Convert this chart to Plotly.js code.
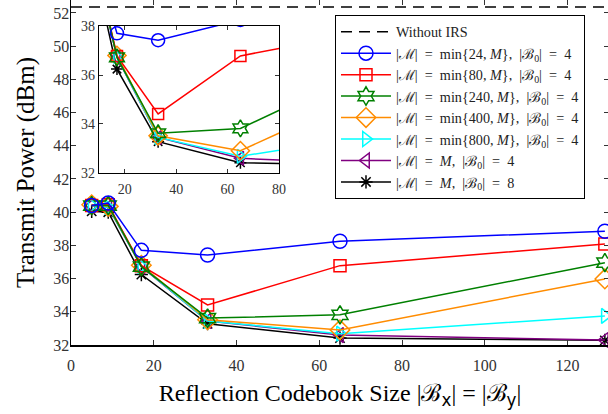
<!DOCTYPE html>
<html>
<head>
<meta charset="utf-8">
<script src="https://cdn.plot.ly/plotly-3.0.1.min.js"></script>
<style>
html,body{margin:0;padding:0;overflow:hidden;background:#fff;}
#chart{position:absolute;left:0;top:0;width:612px;height:414px;}
</style>
</head>
<body>
<div id="chart"></div>
<script>
// Data
const codebookSize = [5, 9, 17, 33, 65, 129];
const withoutIRS = 52.36;
const m24  = [40.40, 40.55, 37.70, 37.42, 38.25, 38.85];
const m80  = [40.40, 40.45, 36.78, 34.41, 36.78, 38.08];
const m240 = [40.40, 40.40, 36.72, 33.62, 33.82, 36.96];
const m400 = [40.45, 40.35, 36.80, 33.52, 32.91, 35.98];
const m800 = [40.40, 40.30, 36.75, 33.45, 32.68, 33.75];
const mAll4 = [40.40, 40.30, 36.72, 33.45, 32.60, 32.30];
const mAll8 = [40.05, 40.00, 36.24, 33.28, 32.42, 32.28];
const xTicks = [0, 20, 40, 60, 80, 100, 120];
const yTicks = [32, 34, 36, 38, 40, 42, 44, 46, 48, 50, 52];
const insetXTicks = [20, 40, 60, 80];
const insetYTicks = [32, 34, 36, 38];

const EQ = '\u2002=\u2002';
const labels = [
  'Without IRS',
  '|ℳ|' + EQ + 'min{24, <i>M</i>},\u2002|ℬ<sub>0</sub>|' + EQ + '4',
  '|ℳ|' + EQ + 'min{80, <i>M</i>},\u2002|ℬ<sub>0</sub>|' + EQ + '4',
  '|ℳ|' + EQ + 'min{240, <i>M</i>},\u2002|ℬ<sub>0</sub>|' + EQ + '4',
  '|ℳ|' + EQ + 'min{400, <i>M</i>},\u2002|ℬ<sub>0</sub>|' + EQ + '4',
  '|ℳ|' + EQ + 'min{800, <i>M</i>},\u2002|ℬ<sub>0</sub>|' + EQ + '4',
  '|ℳ|' + EQ + '<i>M</i>,\u2002|ℬ<sub>0</sub>|' + EQ + '4',
  '|ℳ|' + EQ + '<i>M</i>,\u2002|ℬ<sub>0</sub>|' + EQ + '8'
];

const SERIF = 'Liberation Serif, Times New Roman, serif';

// draw order bottom->top, with legend rank
const series = [
  {y: mAll8, color: '#000000', symbol: 'asterisk-open', size: 11, rank: 7},
  {y: mAll4, color: '#800080', symbol: 'triangle-left-open', size: 13, rank: 6},
  {y: m800, color: '#00ffff', symbol: 'triangle-right-open', size: 13, rank: 5},
  {y: m400, color: '#ff8c00', symbol: 'diamond-open', size: 15, rank: 4},
  {y: m80, color: '#ff0000', symbol: 'square-open', size: 12, rank: 2},
  {y: m240, color: '#008000', symbol: 'hexagram-open', size: 14, rank: 3},
  {y: m24, color: '#0000ff', symbol: 'circle-open', size: 14, rank: 1}
];

const traces = [];
traces.push({
  x: [0, 130], y: [withoutIRS, withoutIRS], mode: 'lines', name: labels[0],
  line: {color: '#000', width: 1.5, dash: '11px,7px'}, legendrank: 0,
  xaxis: 'x', yaxis: 'y', cliponaxis: true
});
series.forEach(s => {
  traces.push({
    x: codebookSize, y: s.y, mode: 'lines+markers', name: labels[s.rank],
    legendrank: s.rank,
    line: {color: s.color, width: 1.5},
    marker: {symbol: s.symbol, size: s.size, color: s.color, line: {color: s.color, width: 1.5}},
    xaxis: 'x', yaxis: 'y', cliponaxis: false
  });
});
// helper traces for mirrored tick axes
traces.push({x: [0], y: [32], xaxis: 'x2', yaxis: 'y', mode: 'markers', marker: {opacity: 0}, showlegend: false, hoverinfo: 'skip'});
traces.push({x: [0], y: [32], xaxis: 'x', yaxis: 'y2', mode: 'markers', marker: {opacity: 0}, showlegend: false, hoverinfo: 'skip'});
// inset
series.forEach(s => {
  traces.push({
    x: codebookSize, y: s.y, mode: 'lines+markers', showlegend: false,
    line: {color: s.color, width: 1.5},
    marker: {symbol: s.symbol, size: s.size - 1, color: s.color, line: {color: s.color, width: 1.5}},
    xaxis: 'x3', yaxis: 'y3', cliponaxis: true
  });
});

const tickFont = {family: SERIF, size: 16, color: '#333'};
const layout = {
  width: 612, height: 414,
  margin: {l: 71, r: 3, t: 0, b: 69},
  paper_bgcolor: '#fff', plot_bgcolor: 'rgba(0,0,0,0)',
  showlegend: true,
  legend: {
    x: 0.4907, y: 0.9565, xanchor: 'left', yanchor: 'top',
    bgcolor: '#fff', bordercolor: '#000', borderwidth: 1, itemwidth: 50,
    font: {family: SERIF, size: 14.2, color: '#222'}, tracegroupgap: 0
  },
  xaxis: {
    range: [0, 130], tickvals: xTicks, ticks: 'inside', ticklen: 5, tickcolor: '#333',
    showline: true, linecolor: '#000', linewidth: 1.5, showgrid: false, zeroline: false,
    tickfont: tickFont, anchor: 'y', ticklabelstandoff: 5,
    title: {text: 'Reflection Codebook Size |ℬ<sub><span style="font-family:DejaVu Sans">x</span></sub>| = |ℬ<sub><span style="font-family:DejaVu Sans">y</span></sub>|', font: {family: SERIF, size: 24, color: '#000'}, standoff: 11}
  },
  xaxis2: {
    range: [0, 130], tickvals: xTicks, ticks: 'inside', ticklen: 5, tickcolor: '#333',
    overlaying: 'x', side: 'top', anchor: 'y', showline: false, showgrid: false,
    zeroline: false, showticklabels: false
  },
  yaxis: {
    range: [32, 52.78], tickvals: yTicks, ticks: 'inside', ticklen: 5, tickcolor: '#333',
    showline: true, linecolor: '#000', linewidth: 1.5, showgrid: false, zeroline: false,
    tickfont: tickFont, anchor: 'x', ticklabelstandoff: -3,
    title: {text: 'Transmit Power (dBm)', font: {family: SERIF, size: 25, color: '#000'}, standoff: 11}
  },
  yaxis2: {
    range: [32, 52.78], tickvals: yTicks, ticks: 'inside', ticklen: 5, tickcolor: '#333',
    overlaying: 'y', side: 'right', anchor: 'x', showline: false, showgrid: false,
    zeroline: false, showticklabels: false
  },
  xaxis3: {
    domain: [0.052, 0.3866], anchor: 'y3', range: [10, 80], tickvals: insetXTicks,
    ticks: 'inside', ticklen: 4, tickcolor: '#333', showline: true, mirror: 'ticks', linecolor: '#000', linewidth: 1.2,
    showgrid: false, zeroline: false, tickfont: {family: SERIF, size: 14, color: '#333'}, ticklabelstandoff: 3
  },
  yaxis3: {
    domain: [0.4986, 0.9246], anchor: 'x3', range: [32, 38], tickvals: insetYTicks,
    ticks: 'inside', ticklen: 4, tickcolor: '#333', showline: true, mirror: 'ticks', linecolor: '#000', linewidth: 1.2,
    showgrid: false, zeroline: false, tickfont: {family: SERIF, size: 14, color: '#333'}
  },
  shapes: [{
    type: 'rect', xref: 'x3 domain', yref: 'y3 domain', x0: 0, x1: 1, y0: 0, y1: 1,
    fillcolor: '#fff', line: {width: 0}, layer: 'below'
  }]
};

Plotly.newPlot('chart', traces, layout, {staticPlot: true, displayModeBar: false});
</script>
</body>
</html>
